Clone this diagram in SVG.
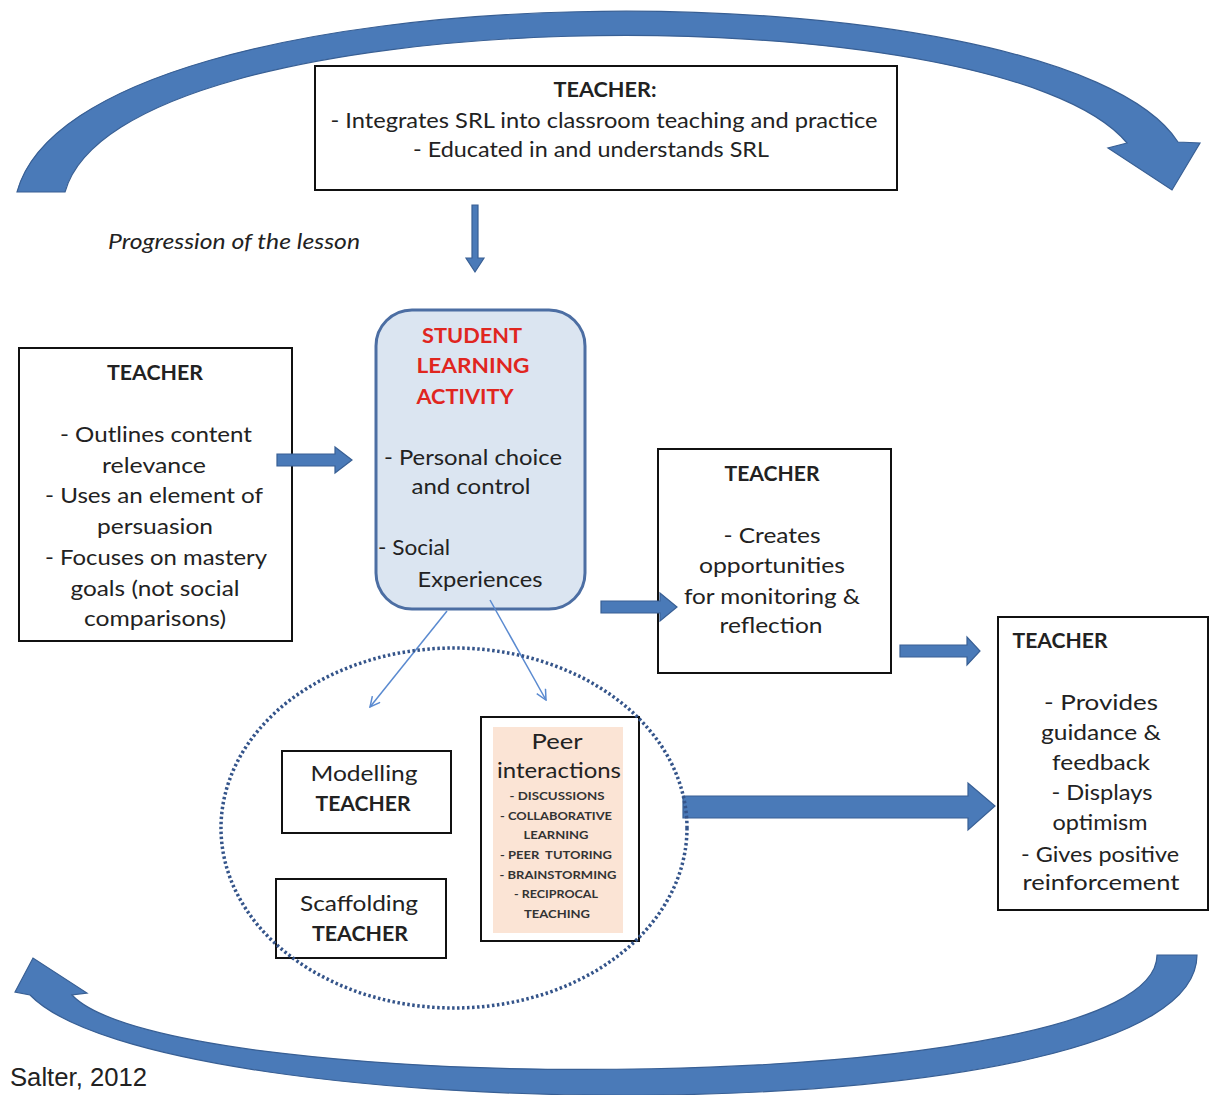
<svg xmlns="http://www.w3.org/2000/svg" width="1209" height="1095" viewBox="0 0 1209 1095">
<defs>
<style>
.t{font-family:Lato,"Open Sans","Liberation Sans",sans-serif;font-size:21px;fill:#222;text-anchor:middle}
.b{font-weight:bold}
.red{fill:#e0261f;font-weight:bold}
.sm{font-family:Lato,"Liberation Sans",sans-serif;font-size:11px;font-weight:bold;fill:#333;text-anchor:middle}
.box{fill:#fff;stroke:#111;stroke-width:2}
.blk{fill:#4a7ab8;stroke:#385f94;stroke-width:1.2}
.thin{stroke:#5a8ad0;stroke-width:1.5;fill:none}
</style>
<marker id="open" viewBox="0 0 12 12" refX="11" refY="6" markerWidth="12" markerHeight="12" markerUnits="userSpaceOnUse" orient="auto">
<path d="M1,1 L11,6 L1,11" fill="none" stroke="#5a8ad0" stroke-width="1.5"/>
</marker>
</defs>
<rect width="1209" height="1095" fill="#fff"/>

<g id="teacher-top">
<rect class="box" x="315" y="66" width="582" height="124"/>
<text class="t b" x="605" y="97" textLength="103" lengthAdjust="spacingAndGlyphs">TEACHER:</text>
<text class="t" x="604" y="128" textLength="547" lengthAdjust="spacingAndGlyphs">- Integrates SRL into classroom teaching and practice</text>
<text class="t" x="591" y="157" textLength="356" lengthAdjust="spacingAndGlyphs">- Educated in and understands SRL</text>
</g>

<text id="progression" class="t" x="234" y="249" font-style="italic" textLength="252" lengthAdjust="spacingAndGlyphs">Progression of the lesson</text>

<g id="teacher-left">
<rect class="box" x="19" y="348" width="273" height="293"/>
<text class="t b" x="155" y="380" textLength="96" lengthAdjust="spacingAndGlyphs">TEACHER</text>
<text class="t" x="156" y="442" textLength="192" lengthAdjust="spacingAndGlyphs">- Outlines content</text>
<text class="t" x="154" y="473" textLength="104" lengthAdjust="spacingAndGlyphs">relevance</text>
<text class="t" x="154" y="503" textLength="218" lengthAdjust="spacingAndGlyphs">- Uses an element of</text>
<text class="t" x="155" y="534" textLength="116" lengthAdjust="spacingAndGlyphs">persuasion</text>
<text class="t" x="156" y="565" textLength="222" lengthAdjust="spacingAndGlyphs">- Focuses on mastery</text>
<text class="t" x="155" y="596" textLength="169" lengthAdjust="spacingAndGlyphs">goals (not social</text>
<text class="t" x="155" y="626" textLength="142" lengthAdjust="spacingAndGlyphs">comparisons)</text>
</g>

<g id="student-activity">
<rect x="376" y="310" width="209" height="299" rx="36" fill="#dbe5f1" stroke="#4c6ea3" stroke-width="3"/>
<text class="t red" x="472" y="343" textLength="100" lengthAdjust="spacingAndGlyphs">STUDENT</text>
<text class="t red" x="473" y="373" textLength="113" lengthAdjust="spacingAndGlyphs">LEARNING</text>
<text class="t red" x="465" y="404" textLength="97" lengthAdjust="spacingAndGlyphs">ACTIVITY</text>
<text class="t" x="473" y="465" textLength="178" lengthAdjust="spacingAndGlyphs">- Personal choice</text>
<text class="t" x="471" y="494" textLength="119" lengthAdjust="spacingAndGlyphs">and control</text>
<text class="t" x="414" y="555" textLength="72" lengthAdjust="spacingAndGlyphs">- Social</text>
<text class="t" x="480" y="587" textLength="125" lengthAdjust="spacingAndGlyphs">Experiences</text>
</g>

<g id="teacher-middle">
<rect class="box" x="658" y="449" width="233" height="224"/>
<text class="t b" x="772" y="481" textLength="95" lengthAdjust="spacingAndGlyphs">TEACHER</text>
<text class="t" x="772" y="543" textLength="97" lengthAdjust="spacingAndGlyphs">- Creates</text>
<text class="t" x="772" y="573" textLength="146" lengthAdjust="spacingAndGlyphs">opportunities</text>
<text class="t" x="772" y="604" textLength="176" lengthAdjust="spacingAndGlyphs">for monitoring &amp;</text>
<text class="t" x="771" y="633" textLength="103" lengthAdjust="spacingAndGlyphs">reflection</text>
</g>

<g id="teacher-right">
<rect class="box" x="998" y="617" width="210" height="293"/>
<text class="t b" x="1060" y="648" textLength="95" lengthAdjust="spacingAndGlyphs">TEACHER</text>
<text class="t" x="1101" y="710" textLength="114" lengthAdjust="spacingAndGlyphs">- Provides</text>
<text class="t" x="1101" y="740" textLength="120" lengthAdjust="spacingAndGlyphs">guidance &amp;</text>
<text class="t" x="1101" y="770" textLength="98" lengthAdjust="spacingAndGlyphs">feedback</text>
<text class="t" x="1102" y="800" textLength="101" lengthAdjust="spacingAndGlyphs">- Displays</text>
<text class="t" x="1100" y="830" textLength="95" lengthAdjust="spacingAndGlyphs">optimism</text>
<text class="t" x="1100" y="862" textLength="158" lengthAdjust="spacingAndGlyphs">- Gives positive</text>
<text class="t" x="1101" y="890" textLength="157" lengthAdjust="spacingAndGlyphs">reinforcement</text>
</g>

<g id="modelling">
<rect class="box" x="282" y="751" width="169" height="82"/>
<text class="t" x="364" y="781" textLength="107" lengthAdjust="spacingAndGlyphs">Modelling</text>
<text class="t b" x="363" y="811" textLength="95" lengthAdjust="spacingAndGlyphs">TEACHER</text>
</g>

<g id="scaffolding">
<rect class="box" x="276" y="879" width="170" height="79"/>
<text class="t" x="359" y="911" textLength="118" lengthAdjust="spacingAndGlyphs">Scaffolding</text>
<text class="t b" x="360" y="941" textLength="96" lengthAdjust="spacingAndGlyphs">TEACHER</text>
</g>

<g id="peer-interactions">
<rect class="box" x="481" y="717" width="158" height="224"/>
<rect x="493" y="727" width="130" height="206" fill="#fbe4d5"/>
<text class="t" x="557" y="749" textLength="51" lengthAdjust="spacingAndGlyphs">Peer</text>
<text class="t" x="559" y="778" textLength="124" lengthAdjust="spacingAndGlyphs">interactions</text>
<text class="sm" x="557" y="800" textLength="95" lengthAdjust="spacingAndGlyphs">- DISCUSSIONS</text>
<text class="sm" x="556" y="820" textLength="112" lengthAdjust="spacingAndGlyphs">- COLLABORATIVE</text>
<text class="sm" x="556" y="839" textLength="65" lengthAdjust="spacingAndGlyphs">LEARNING</text>
<text class="sm" x="556" y="859" textLength="112" lengthAdjust="spacingAndGlyphs" xml:space="preserve">- PEER  TUTORING</text>
<text class="sm" x="558" y="879" textLength="117" lengthAdjust="spacingAndGlyphs">- BRAINSTORMING</text>
<text class="sm" x="556" y="898" textLength="84" lengthAdjust="spacingAndGlyphs">- RECIPROCAL</text>
<text class="sm" x="557" y="918" textLength="66" lengthAdjust="spacingAndGlyphs">TEACHING</text>
</g>

<g id="connectors">
<path id="top-arc" class="blk" d="M17,192 C80,-40 1060,-40 1178,142 L1200,143 L1172,190 L1108,148 L1127,143 C1000,-10 120,-5 65,192 Z"/>
<path id="bottom-arc" class="blk" d="M1197,955 C1197,1140 160,1130 30,995 L15,992 L33,958 L87,993 L72,995 C170,1100 1157,1100 1157,955 Z"/>
<path id="down-arrow" class="blk" d="M472,205 L478,205 L478,258 L484,258 L475,272 L466,258 L472,258 Z"/>
<path class="blk" d="M277,454 L335,454 L335,447 L352,460 L335,473 L335,466 L277,466 Z"/>
<path class="blk" d="M601,601 L660,601 L660,593 L677,607 L660,621 L660,613 L601,613 Z"/>
<path class="blk" d="M900,645 L967,645 L967,637 L980,651 L967,665 L967,657 L900,657 Z"/>
<path class="blk" d="M683,796 L968,796 L968,783 L995,806 L968,830 L968,818 L683,818 Z"/>
<line class="thin" x1="447" y1="611" x2="370" y2="707" marker-end="url(#open)"/>
<line class="thin" x1="490" y1="600" x2="546" y2="700" marker-end="url(#open)"/>
<ellipse cx="454" cy="828" rx="233" ry="180" fill="none" stroke="#34548a" stroke-width="3.5" stroke-dasharray="2.5 2.5"/>
</g>

<text id="citation" x="10" y="1086" font-family="'Liberation Sans',Arial,sans-serif" font-size="26" fill="#222" textLength="137" lengthAdjust="spacingAndGlyphs">Salter, 2012</text>
</svg>
